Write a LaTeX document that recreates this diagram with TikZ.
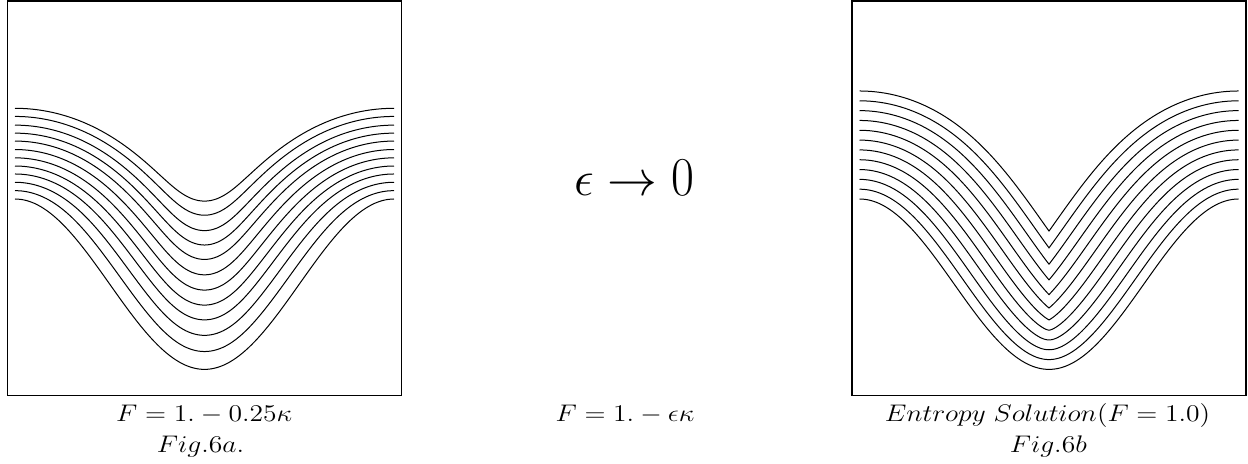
\documentclass[tikz,border=0pt]{standalone}
\usepackage{graphicx}
\newcount\stepcnt
\newcount\outk
\newcount\bisit
\pgfmathsetmacro\dx{189.5/30}
\pgfmathsetmacro\dxsq{\dx*\dx}
\def\epsv{17.5}
\def\dtv{0.7}
% initial curve (pixel coordinates, y downwards), left half, 31 nodes
\foreach \i in {0,...,30}{%
  \pgfmathparse{199+85.2*(1-cos(0.949868*\i*\dx))}%
  \expandafter\xdef\csname YA\i\endcsname{\pgfmathresult}%
}
% one explicit step of y_t = -sqrt(1+y_x^2) + eps*y_xx/(1+y_x^2)
\def\dostep{%
  \expandafter\xdef\csname YA-1\endcsname{\csname YA1\endcsname}%
  \expandafter\xdef\csname YA31\endcsname{\csname YA29\endcsname}%
  \foreach \i in {0,...,30}{%
    \edef\ym{\csname YA\the\numexpr\i-1\relax\endcsname}%
    \edef\yc{\csname YA\i\endcsname}%
    \edef\yp{\csname YA\the\numexpr\i+1\relax\endcsname}%
    \pgfmathparse{(\yp-\ym)/(2*\dx)}\let\pp\pgfmathresult
    \pgfmathparse{\yc+\dtv*(\epsv*(\yp-2*\yc+\ym)/\dxsq/(1+(\pp)*(\pp))-sqrt(1+(\pp)*(\pp)))}%
    \expandafter\xdef\csname YB\i\endcsname{\pgfmathresult}%
  }%
  \foreach \i in {0,...,30}{%
    \expandafter\xdef\csname YA\i\endcsname{\csname YB\i\endcsname}%
  }%
}
\def\savecurve#1{%
  \gdef\tmpc{}%
  \foreach \i in {0,...,30}{%
    \pgfmathparse{15+\i*\dx}%
    \xdef\tmpc{\tmpc(\pgfmathresult,\csname YA\i\endcsname)}%
  }%
  \foreach \i in {29,...,0}{%
    \pgfmathparse{394-\i*\dx}%
    \xdef\tmpc{\tmpc(\pgfmathresult,\csname YA\i\endcsname)}%
  }%
  \expandafter\xdef\csname curve#1\endcsname{\tmpc}%
}
\savecurve{0}%
\global\outk=1
\global\stepcnt=0
\loop
  \dostep
  \global\advance\stepcnt by 1
  \edef\yz{\csname YA0\endcsname}%
  \pgfmathsetmacro\target{199-8.2*\the\outk}%
  \pgfmathtruncatemacro\flag{\yz<\target}%
  \ifnum\flag=1 \savecurve{\the\outk}\global\advance\outk by 1 \fi
  \ifnum\stepcnt>800 \global\outk=12 \fi
\ifnum\outk<12 \repeat
% corner parameter of the entropy solution (bisection)
\def\findustar#1{%
  \def\bisLo{0}\def\bisHi{189.5}%
  \bisit=0
  \loop
    \pgfmathsetmacro\bisMid{(\bisLo+\bisHi)/2}%
    \pgfmathsetmacro\bisS{1.41246*sin(0.949868*\bisMid)}%
    \pgfmathsetmacro\bisH{\bisMid+#1*\bisS/sqrt(1+\bisS*\bisS)-189.5}%
    \pgfmathtruncatemacro\bisF{\bisH<0}%
    \ifnum\bisF=1 \let\bisLo\bisMid \else \let\bisHi\bisMid \fi
    \advance\bisit by 1
  \ifnum\bisit<18 \repeat
  \let\ustar\bisLo
}
\tikzset{
  boxline/.style={draw=black, line width=0.65pt},
  crv/.style={draw=black, line width=0.5pt, line join=miter},
  captxt/.style={anchor=base, inner sep=0pt, font=\fontsize{11.6}{14}\selectfont},
}
\begin{document}
\begin{tikzpicture}[x=0.5pt,y=-0.5pt]
\useasboundingbox (0,0) rectangle (1248,464);
% frames
\draw[boxline] (7.5,1) rectangle (401.5,395.6);
\draw[boxline] (852,1) rectangle (1246,395.6);
% left: F = 1 - 0.25 kappa
\foreach \k in {0,...,11}{%
  \edef\tmpdraw{\noexpand\draw[crv] plot[smooth] coordinates {\csname curve\k\endcsname};}%
  \tmpdraw
}
% right: entropy solution
\foreach \k in {0,...,11}{%
  \pgfmathsetmacro\dK{9.82*\k}%
  \findustar{\dK}%
  \draw[crv] plot[domain=0:\ustar, samples=70, variable=\u]
    ({859.5+\u+\dK*(1.41246*sin(0.949868*\u))/sqrt(1+(1.41246*sin(0.949868*\u))^2)},
     {199+85.2*(1-cos(0.949868*\u))-\dK/sqrt(1+(1.41246*sin(0.949868*\u))^2)})
   -- plot[domain=\ustar:0, samples=70, variable=\u]
    ({1238.5-\u-\dK*(1.41246*sin(0.949868*\u))/sqrt(1+(1.41246*sin(0.949868*\u))^2)},
     {199+85.2*(1-cos(0.949868*\u))-\dK/sqrt(1+(1.41246*sin(0.949868*\u))^2)});
}
% texts
\node[anchor=base, inner sep=0pt, font=\fontsize{25}{30}\selectfont] (lim) at (634,196) {$\epsilon\rightarrow\scalebox{1}[1.1]{$0$}$};
\node[captxt] (capa) at (204.2,421.3) {\scalebox{1.15}[1]{$F=1.-0.25\kappa$}};
\node[captxt] (figa) at (200.5,453) {\scalebox{1.15}[1]{$Fig.6a.$}};
\node[captxt] (capm) at (625,421.3) {\scalebox{1.15}[1]{$F=1.-\epsilon\kappa$}};
\node[captxt] (capb) at (1047.5,421.3) {\scalebox{1.15}[1]{$Entropy\;Solution(F=1.0)$}};
\node[captxt] (figb) at (1048.3,453) {\scalebox{1.15}[1]{$Fig.6b$}};
\end{tikzpicture}
\end{document}
